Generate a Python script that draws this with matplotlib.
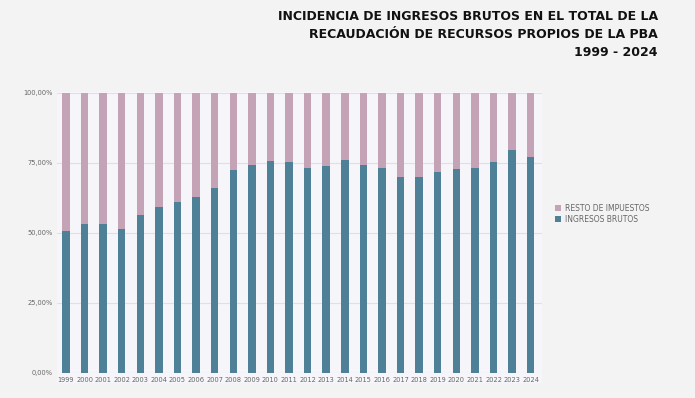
# Incidencia de Ingresos Brutos en la recaudación de recursos propios PBA

import matplotlib.pyplot as plt
from matplotlib.patches import Rectangle

years = [str(y) for y in range(1999, 2025)]
ingresos_brutos = [0.507, 0.531, 0.531, 0.513, 0.563, 0.593, 0.609, 0.628,
                   0.659, 0.723, 0.742, 0.756, 0.752, 0.731, 0.739, 0.759,
                   0.743, 0.730, 0.698, 0.699, 0.717, 0.726, 0.731, 0.751,
                   0.796, 0.770]
resto = [1 - v for v in ingresos_brutos]
yticks = [0, 0.25, 0.5, 0.75, 1.0]
ytick_labels = ["0,00%", "25,00%", "50,00%", "75,00%", "100,00%"]

blue = "#4e8097"
pink = "#c4a3b6"

fig = plt.figure(figsize=(6.95, 3.98), dpi=100, facecolor="#f3f3f3")

ax = fig.add_axes([57 / 695, 25.3 / 398, 484.7 / 695, 280 / 398])
ax.set_facecolor("none")

# lighter panel behind the plot (extends under the year labels)
ax.add_patch(Rectangle((57 / 695, 15 / 398), 484.7 / 695, 291 / 398,
                       transform=fig.transFigure, facecolor="#f6f5f9",
                       edgecolor="none", zorder=-5, clip_on=False))

x = range(len(years))
ax.bar(x, ingresos_brutos, width=0.4, color=blue, label="INGRESOS BRUTOS", zorder=3)
ax.bar(x, resto, width=0.4, bottom=ingresos_brutos, color=pink,
       label="RESTO DE IMPUESTOS", zorder=3)

ax.set_xlim(-0.48, 25.59)
ax.set_ylim(0, 1)
ax.set_yticks(yticks)
ax.set_yticklabels(ytick_labels, fontsize=4.8, color="#666666")
ax.set_xticks(list(x))
ax.set_xticklabels(years, fontsize=4.8, color="#666666")
ax.tick_params(length=0, pad=3)
ax.grid(axis="y", color="#e0e0e0", linewidth=0.8, zorder=0)
for s in ax.spines.values():
    s.set_visible(False)

handles, labels = ax.get_legend_handles_labels()
fig.legend(handles[::-1], labels[::-1], loc="upper left",
           bbox_to_anchor=(548 / 695, 1 - 197 / 398), frameon=False,
           fontsize=5.5, labelcolor="#666666", handlelength=0.8,
           handleheight=0.8, handletextpad=0.5, labelspacing=0.25)

title = ("INCIDENCIA DE INGRESOS BRUTOS EN EL TOTAL DE LA\n"
         "RECAUDACIÓN DE RECURSOS PROPIOS DE LA PBA\n"
         "1999 - 2024")
fig.text(658 / 695, 1 - 10 / 398, title, ha="right", va="top",
         fontsize=9, fontweight="bold", color="#111111",
         linespacing=1.5, family="DejaVu Sans")

fig.savefig("out.png", dpi=100, facecolor=fig.get_facecolor())
